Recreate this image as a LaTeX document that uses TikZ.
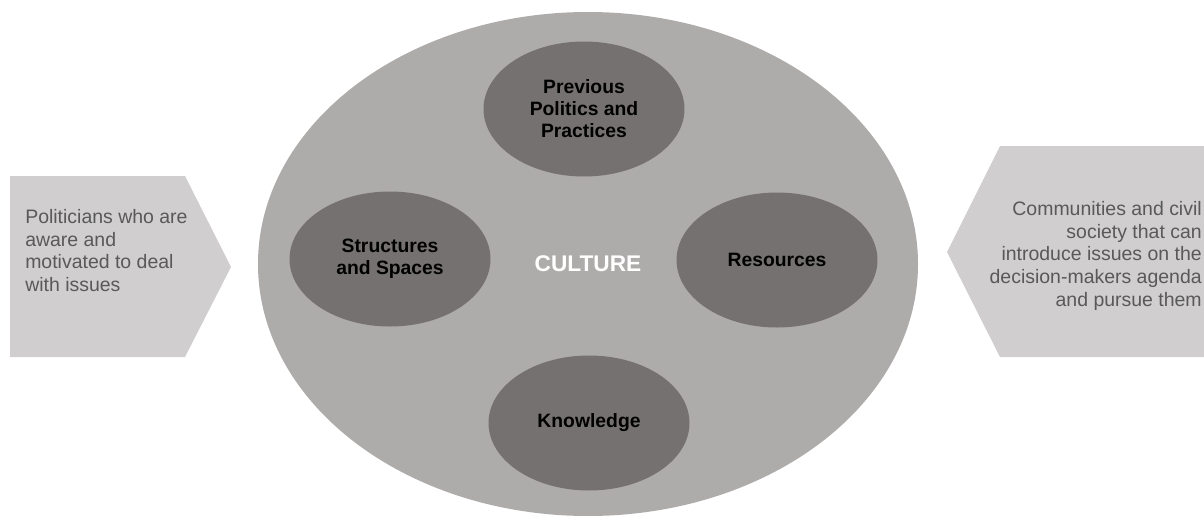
\documentclass[tikz,border=0pt]{standalone}
\usepackage{fontspec}
\setmainfont{Liberation Sans}
\usetikzlibrary{shapes.geometric}

\definecolor{culturegray}{HTML}{AEABAB}
\definecolor{factorgray}{HTML}{767171}
\definecolor{actorgray}{HTML}{D0CECE}
\definecolor{actortext}{HTML}{595959}

\begin{document}
\begin{tikzpicture}[x=0.75pt, y=-0.75pt,
    factor/.style={ellipse, fill=factorgray, inner sep=0pt,
        minimum width=201pt*0.75, minimum height=135pt*0.75,
        align=center, font=\fontsize{14.5}{16.5}\selectfont\bfseries},
    actor/.style={inner sep=0pt, text=actortext,
        font=\fontsize{14.6}{17}\selectfont}]
    \useasboundingbox (0, 0) rectangle (1204, 515);

    % the two actors at the sides
    \fill[actorgray] (10, 176) -- (185, 176) -- (231, 267) -- (185, 357) -- (10, 357) -- cycle;
    \fill[actorgray] (1210, 146) -- (1000, 146) -- (947, 252) -- (1000, 357) -- (1210, 357) -- cycle;
    \node[actor, anchor=north west, align=left] (politicians) at (25, 209)
        {Politicians who are\\aware and\\motivated to deal\\with issues};
    \node[actor, anchor=north east, align=right] (communities) at (1202, 201)
        {Communities and civil\\society that can\\introduce issues on the\\decision-makers agenda\\and pursue them};

    % culture and its four factors
    \node[ellipse, fill=culturegray, inner sep=0pt, minimum width=660pt*0.75,
        minimum height=504pt*0.75, text=white,
        font=\fontsize{17}{20}\selectfont\bfseries] (culture) at (588, 264) {CULTURE};
    \node[factor] (previous) at (584, 109) {Previous\\Politics and\\Practices};
    \node[factor] (structures) at (390, 259) {Structures\\and Spaces};
    \node[factor] (resources) at (777, 260) {Resources};
    \node[factor] (knowledge) at (589, 423) {Knowledge};

\end{tikzpicture}
\end{document}
